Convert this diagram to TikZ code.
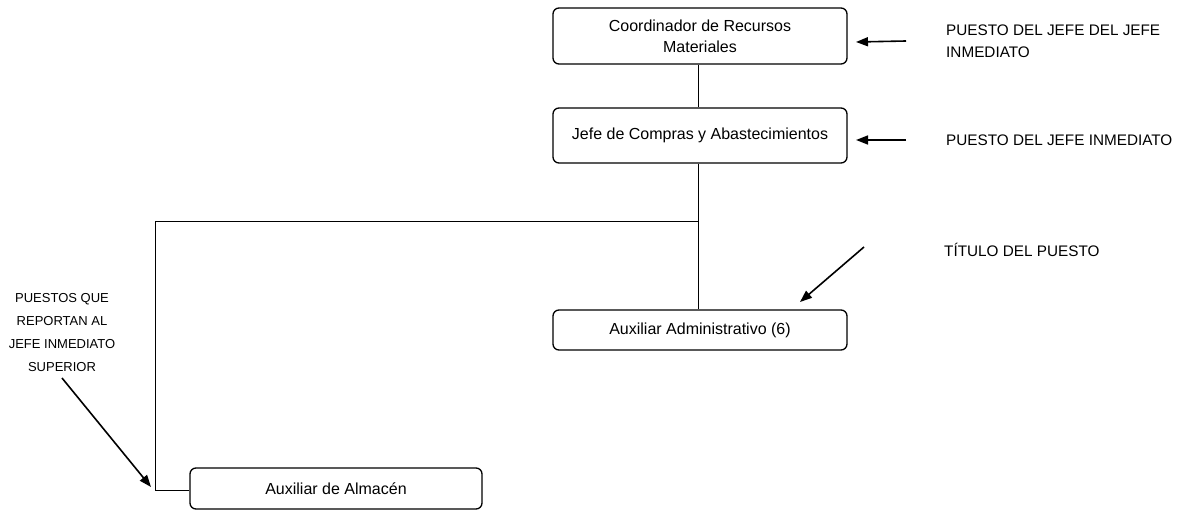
\documentclass[tikz,border=0pt]{standalone}
\usepackage{fontspec}
\setmainfont{Liberation Sans}
\usetikzlibrary{arrows.meta}
\begin{document}
\begin{tikzpicture}[x=1pt,y=-1pt,
  box/.style={draw,line width=1.3pt,rounded corners=6pt,font=\fontsize{16}{21}\selectfont,align=center,inner sep=0pt},
  conn/.style={line width=0.8pt},
  lbl/.style={font=\fontsize{15.3}{22}\selectfont,inner sep=0pt},
  ptr/.style={line width=1.6pt,-{Triangle[length=12pt,width=9pt]}}]
\useasboundingbox (0,0) rectangle (1181,510);
\node[box,minimum width=294pt,minimum height=56pt] (b1) at (700,36) {Coordinador de Recursos\\Materiales};
\node[box,minimum width=294pt,minimum height=55pt] (b2) at (700,135.5) {Jefe de Compras y Abastecimientos};
\node[box,minimum width=294pt,minimum height=40pt] (b3) at (700,330) {Auxiliar Administrativo (6)};
\node[box,minimum width=292pt,minimum height=41pt] (b4) at (336,488.5) {Auxiliar de Almac\'en};
\coordinate (j) at (698,221);
\coordinate (c1) at (155,221);
\coordinate (c2) at (155,490);
\draw[conn] (b1.south -| j) -- (b2.north -| j);
\draw[conn] (b2.south -| j) -- (b3.north -| j);
\draw[conn] (j) -- (c1) -- (c2) -- (c2 -| b4.west);
\node[lbl,anchor=west,align=left] (t1) at (946,41) {PUESTO DEL JEFE DEL JEFE\\INMEDIATO};
\node[lbl,anchor=west] (t2) at (946,140) {PUESTO DEL JEFE INMEDIATO};
\node[lbl,anchor=west] (t3) at (944,250) {T\'ITULO DEL PUESTO};
\node[lbl,align=center,font=\fontsize{13}{23}\selectfont] (t4) at (62,333) {PUESTOS QUE\\REPORTAN AL\\JEFE INMEDIATO\\SUPERIOR};
\coordinate (a1) at (906,41);
\coordinate (a2) at (906,140);
\coordinate (a3) at (864,247);
\coordinate (a4) at (62,378);
\draw[ptr] (a1) -- (856,42);
\draw[ptr] (a2) -- (856,140);
\draw[ptr] (a3) -- (800,302);
\draw[ptr] (a4) -- (151,487);
\end{tikzpicture}
\end{document}
